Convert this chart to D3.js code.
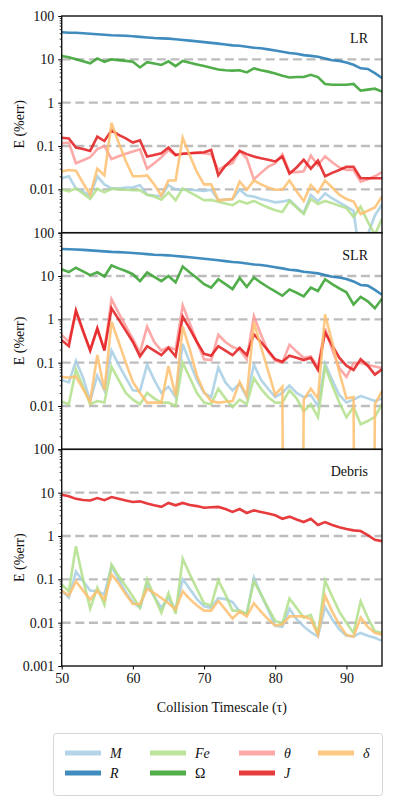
<!DOCTYPE html>
<html>
<head>
<meta charset="utf-8">
<script src="https://cdn.jsdelivr.net/npm/d3@7"></script>
<style>
  body { margin: 0; background: #fff; }
  svg text { font-family: "Liberation Serif", "DejaVu Serif", serif; fill: #111; }
</style>
</head>
<body>
<svg id="chart" width="395" height="807"></svg>
<script>
// collision timescale (x)
const tau = [50, 51, 52, 53, 54, 55, 56, 57, 58, 59,
  60, 61, 62, 63, 64, 65, 66, 67, 68, 69,
  70, 71, 72, 73, 74, 75, 76, 77, 78, 79,
  80, 81, 82, 83, 84, 85, 86, 87, 88, 89,
  90, 91, 92, 93, 94, 95];

// --- LR panel ---
const lrM = [0.018, 0.02, 0.0105, 0.009, 0.007, 0.02, 0.013, 0.0105, 0.0105, 0.011,
  0.0112, 0.0125, 0.0075, 0.0072, 0.007, 0.0125, 0.01, 0.0098, 0.0098, 0.0095,
  0.0092, 0.0098, 0.0056, 0.0058, 0.006, 0.0098, 0.0072, 0.0068, 0.006, 0.0055,
  0.005, 0.0052, 0.0057, 0.004, 0.0028, 0.0074, 0.0053, 0.008, 0.0062, 0.005,
  0.004, 0.0032, 0.0002, 0.0009, 0.0025, 0.0045];
const lrR = [42, 41, 41, 40, 39, 38, 37, 36, 35.5, 35,
  34, 33, 32, 31, 30.5, 30, 29, 28, 27, 26,
  25, 24, 23, 22, 21, 20.5, 19.5, 18.5, 18, 17,
  16, 15, 14, 13.5, 12.5, 12, 11.5, 10.5, 9.5, 9.2,
  8.5, 7.5, 6.2, 6.0, 4.8, 3.7];
const lrFe = [0.01, 0.009, 0.0105, 0.008, 0.006, 0.0103, 0.0085, 0.0103, 0.01, 0.0098,
  0.0095, 0.0095, 0.0075, 0.0068, 0.0058, 0.0085, 0.0056, 0.0105, 0.0085, 0.007,
  0.0056, 0.0057, 0.0052, 0.0047, 0.0043, 0.0054, 0.0047, 0.0054, 0.0045, 0.0038,
  0.0033, 0.003, 0.0054, 0.0038, 0.0027, 0.006, 0.0046, 0.0054, 0.0048, 0.0042,
  0.0037, 0.0023, 0.004, 0.0018, 0.0009, 0.0021];
const lrOmega = [11.9, 11.2, 10, 9, 8.1, 10.5, 8.8, 10, 9.6, 9.2,
  8.8, 6.5, 8.6, 8, 7.4, 9.0, 7.0, 9.2, 8.3, 7.6,
  7.0, 6.4, 5.8, 5.6, 5.5, 5.6, 5.0, 6.2, 5.6, 5.2,
  4.7, 4.2, 3.8, 3.9, 3.9, 4.4, 3.9, 2.7, 2.6, 2.6,
  2.6, 2.7, 1.9, 2.0, 2.1, 1.8];
const lrTheta = [0.115, 0.12, 0.04, 0.047, 0.055, 0.085, 0.1, 0.05, 0.058, 0.066,
  0.075, 0.084, 0.03, 0.04, 0.055, 0.08, 0.062, 0.066, 0.068, 0.07,
  0.068, 0.065, 0.028, 0.035, 0.04, 0.076, 0.052, 0.017, 0.024, 0.033,
  0.04, 0.064, 0.025, 0.025, 0.026, 0.06, 0.036, 0.058, 0.042, 0.032,
  0.028, 0.028, 0.015, 0.017, 0.02, 0.025];
const lrJ = [0.155, 0.15, 0.092, 0.085, 0.077, 0.165, 0.13, 0.23, 0.18, 0.15,
  0.12, 0.135, 0.057, 0.062, 0.068, 0.092, 0.062, 0.066, 0.068, 0.07,
  0.072, 0.081, 0.021, 0.035, 0.05, 0.077, 0.065, 0.057, 0.052, 0.048,
  0.044, 0.057, 0.023, 0.032, 0.048, 0.03, 0.046, 0.02, 0.024, 0.028,
  0.033, 0.033, 0.018, 0.018, 0.018, 0.018];
const lrDelta = [0.026, 0.028, 0.027, 0.014, 0.0075, 0.03, 0.021, 0.34, 0.12, 0.045,
  0.02, 0.02, 0.021, 0.013, 0.0072, 0.016, 0.016, 0.155, 0.06, 0.025,
  0.013, 0.013, 0.0056, 0.0058, 0.006, 0.015, 0.0098, 0.016, 0.013, 0.011,
  0.0098, 0.0098, 0.016, 0.009, 0.0054, 0.0125, 0.0085, 0.016, 0.011, 0.0075,
  0.006, 0.0052, 0.0027, 0.0032, 0.0038, 0.0068];

// --- SLR panel ---
const slrM = [0.04, 0.035, 0.11, 0.045, 0.013, 0.05, 0.023, 0.19, 0.09, 0.045,
  0.023, 0.022, 0.09, 0.04, 0.02, 0.028, 0.016, 0.27, 0.1, 0.04,
  0.02, 0.016, 0.078, 0.035, 0.023, 0.033, 0.016, 0.09, 0.04, 0.025,
  0.016, 0.02, 0.03, 0.02, 0.016, 0.018, 0.01, 0.095, 0.04, 0.018,
  0.012, 0.014, 0.017, 0.015, 0.013, 0.015];
const slrR = [42, 41.5, 41, 40, 39, 38, 37, 36, 35.5, 35,
  34, 33, 32, 31, 30.5, 30, 29, 28, 27, 26,
  25, 24, 23, 22, 21, 20.5, 19.5, 18.5, 18, 17,
  16, 15, 14, 13.5, 12.5, 12, 11.5, 10.5, 9.6, 9.2,
  8.5, 7.5, 6.2, 6.0, 4.8, 3.7];
const slrFe = [0.0125, 0.011, 0.07, 0.028, 0.011, 0.013, 0.012, 0.08, 0.04, 0.02,
  0.014, 0.011, 0.02, 0.015, 0.012, 0.012, 0.01, 0.1, 0.045, 0.02,
  0.012, 0.011, 0.025, 0.015, 0.0095, 0.014, 0.011, 0.044, 0.025, 0.016,
  0.012, 0.012, 0.023, 0.015, 0.0075, 0.011, 0.0055, 0.08, 0.03, 0.012,
  0.0055, 0.0095, 0.0038, 0.0045, 0.0056, 0.011];
const slrOmega = [14.3, 12.3, 15.5, 12.8, 10.5, 12.2, 9.8, 17.5, 15, 13,
  11, 7.6, 12, 9.5, 7.6, 10, 7.1, 16.5, 12, 9,
  6.5, 5.4, 8.4, 6.5, 5.0, 9.0, 5.6, 9.2, 7, 5.5,
  4.4, 3.5, 4.9, 4.1, 3.4, 5.4, 4.5, 8.4, 6.5, 5.2,
  4.2, 2.2, 3.3, 2.6, 1.8, 3.0];
const slrTheta = [0.44, 0.3, 1.5, 0.5, 0.2, 0.6, 0.2, 2.9, 1.4, 0.7,
  0.35, 0.17, 0.68, 0.3, 0.19, 0.23, 0.2, 2.1, 0.8, 0.3,
  0.12, 0.115, 0.44, 0.3, 0.23, 0.2, 0.12, 1.2, 0.44, 0.18,
  0.11, 0.1, 0.26, 0.18, 0.13, 0.14, 0.08, 0.62, 0.2, 0.075,
  0.047, 0.096, 0.1, 0.088, 0.082, 0.075];
const slrJ = [0.33, 0.24, 1.6, 0.55, 0.19, 0.62, 0.19, 1.8, 1.0, 0.55,
  0.3, 0.14, 0.24, 0.19, 0.15, 0.22, 0.14, 1.15, 0.6, 0.3,
  0.16, 0.145, 0.24, 0.19, 0.15, 0.22, 0.15, 0.45, 0.3, 0.19,
  0.12, 0.105, 0.145, 0.13, 0.115, 0.13, 0.068, 0.5, 0.25, 0.13,
  0.085, 0.068, 0.12, 0.085, 0.053, 0.07];
const slrDelta = [0.047, 0.045, 0.048, 0.025, 0.0125, 0.15, 0.023, 0.88, 0.3, 0.1,
  0.036, 0.02, 0.012, 0.012, 0.012, 0.083, 0.017, 0.68, 0.2, 0.05,
  0.021, 0.013, 0.012, 0.0125, 0.013, 0.036, 0.017, 0.85, 0.23, 0.065,
  0.018, 0.028, 0, 0, 0.014, 0.025, 0.015, 1.3, 0.3, 0.06,
  0.015, 0.016, 0, 0, 0.011, 0.022];

// --- Debris panel ---
const debM = [0.055, 0.038, 0.15, 0.09, 0.055, 0.053, 0.045, 0.2, 0.1, 0.05,
  0.03, 0.022, 0.075, 0.04, 0.022, 0.037, 0.02, 0.1, 0.06, 0.035,
  0.024, 0.022, 0.037, 0.035, 0.03, 0.018, 0.016, 0.11, 0.045, 0.02,
  0.0085, 0.008, 0.021, 0.012, 0.0082, 0.006, 0.0048, 0.023, 0.012, 0.007,
  0.005, 0.0048, 0.0058, 0.005, 0.0045, 0.0038];
const debFe = [0.076, 0.053, 0.58, 0.1, 0.021, 0.064, 0.026, 0.22, 0.12, 0.07,
  0.04, 0.022, 0.1, 0.04, 0.017, 0.048, 0.016, 0.3, 0.13, 0.06,
  0.028, 0.025, 0.095, 0.045, 0.019, 0.019, 0.016, 0.09, 0.045, 0.022,
  0.011, 0.0095, 0.036, 0.022, 0.013, 0.015, 0.0055, 0.093, 0.04, 0.018,
  0.01, 0.0058, 0.031, 0.013, 0.0063, 0.0058];
const debJ = [9.0, 8.3, 7.2, 6.8, 6.6, 7.5, 6.7, 7.9, 7.2, 6.6,
  6.1, 6.3, 5.6, 5.1, 4.7, 5.8, 5.1, 5.8, 5.2, 4.9,
  4.5, 4.6, 4.7, 4.2, 3.6, 4.2, 3.4, 3.9, 3.6, 3.3,
  3.0, 2.5, 2.8, 2.4, 2.1, 2.5, 1.8, 2.1, 1.8, 1.6,
  1.45, 1.35, 1.3, 1.05, 0.82, 0.76];
const debDelta = [0.055, 0.042, 0.09, 0.055, 0.034, 0.055, 0.034, 0.13, 0.08, 0.045,
  0.027, 0.027, 0.06, 0.048, 0.037, 0.028, 0.02, 0.053, 0.035, 0.025,
  0.019, 0.019, 0.032, 0.02, 0.0125, 0.018, 0.014, 0.028, 0.018, 0.012,
  0.0085, 0.009, 0.014, 0.014, 0.014, 0.012, 0.0052, 0.042, 0.018, 0.009,
  0.0052, 0.0048, 0.013, 0.008, 0.0058, 0.0053];

const yTicks = [100, 10, 1, 0.1, 0.01, 0.001];
const gridLevels = [10, 1, 0.1, 0.01];
const xTicks = [50, 60, 70, 80, 90];

const colors = {
  M: '#a6cee3', R: '#1f78b4', Fe: '#b2df8a', Omega: '#33a02c',
  theta: '#fb9a99', J: '#e31a1c', delta: '#fdbf6f',
};

const panels = [
  { name: 'LR', series: { M: lrM, R: lrR, Fe: lrFe, Omega: lrOmega, theta: lrTheta, J: lrJ, delta: lrDelta }, lastLabel: false },
  { name: 'SLR', series: { M: slrM, R: slrR, Fe: slrFe, Omega: slrOmega, theta: slrTheta, J: slrJ, delta: slrDelta }, lastLabel: false },
  { name: 'Debris', series: { M: debM, Fe: debFe, J: debJ, delta: debDelta }, lastLabel: true },
];
const order = ['M', 'R', 'Fe', 'Omega', 'theta', 'J', 'delta'];

const svg = d3.select('#chart');
const plotLeft = 61.7, plotRight = 382, plotTop = 16, panelH = 216.67;

const x = d3.scaleLinear().domain([50, 95]).range([plotLeft, plotRight]);

panels.forEach((p, i) => {
  const y0 = plotTop + i * panelH;
  const y = d3.scaleLog().domain([0.001, 100]).range([y0 + panelH, y0]);
  const g = svg.append('g');

  g.append('clipPath').attr('id', `clip${i}`)
    .append('rect').attr('x', plotLeft).attr('y', y0).attr('width', plotRight - plotLeft).attr('height', panelH);

  g.selectAll('line.grid')
    .data(gridLevels)
    .join('line')
    .attr('class', 'grid')
    .attr('x1', plotLeft).attr('x2', plotRight)
    .attr('y1', (d) => y(d)).attr('y2', (d) => y(d))
    .attr('stroke', '#bdbdbd')
    .attr('stroke-width', 2.4)
    .attr('stroke-dasharray', '9,4.6');

  const line = d3.line()
    .x((d, j) => x(tau[j]))
    .y((d) => y(Math.max(d, 1e-30)));

  const lines = g.append('g').attr('clip-path', `url(#clip${i})`);
  order.forEach((k) => {
    if (!p.series[k]) return;
    lines.append('path')
      .datum(p.series[k])
      .attr('d', line)
      .attr('fill', 'none')
      .attr('stroke', colors[k])
      .attr('stroke-opacity', 0.85)
      .attr('stroke-width', 2.6)
      .attr('stroke-linejoin', 'miter');
  });

  // minor ticks
  const minors = [];
  [0.001, 0.01, 0.1, 1, 10].forEach((dec) => {
    for (let m = 2; m <= 9; m++) minors.push(dec * m);
  });
  g.append('g')
    .attr('transform', `translate(${plotLeft},0)`)
    .call(d3.axisLeft(y).tickValues(minors).tickSize(2).tickFormat(''))
    .call((a) => a.select('.domain').remove())
    .call((a) => a.selectAll('line').attr('stroke-width', 0.8));

  const labels = p.lastLabel ? yTicks : yTicks.slice(0, 5);
  g.append('g')
    .attr('transform', `translate(${plotLeft},0)`)
    .call(d3.axisLeft(y).tickValues(yTicks).tickSize(3.5).tickPadding(4)
      .tickFormat((d) => (labels.includes(d) ? String(d) : '')))
    .call((a) => a.select('.domain').remove())
    .call((a) => a.selectAll('line').attr('stroke-width', 1))
    .call((a) => a.selectAll('text')
      .style('font-family', '"Liberation Serif", serif')
      .style('font-size', '14px').attr('fill', '#111'));

  g.append('rect')
    .attr('x', plotLeft).attr('y', y0)
    .attr('width', plotRight - plotLeft).attr('height', panelH)
    .attr('fill', 'none').attr('stroke', '#111').attr('stroke-width', 1.4);

  g.append('text')
    .attr('x', 368).attr('y', y0 + 27)
    .attr('text-anchor', 'end')
    .style('font-size', '14px')
    .text(p.name);

  g.append('text')
    .attr('transform', `translate(24,${y0 + panelH / 2}) rotate(-90)`)
    .attr('text-anchor', 'middle')
    .style('font-size', '14px')
    .text('E (%err)');

  if (i === panels.length - 1) {
    g.append('g')
      .attr('transform', `translate(0,${y0 + panelH})`)
      .call(d3.axisBottom(x).tickValues(xTicks).tickSize(3.5).tickPadding(4))
      .call((a) => a.select('.domain').remove())
      .call((a) => a.selectAll('line').attr('stroke-width', 1))
      .call((a) => a.selectAll('text')
        .style('font-family', '"Liberation Serif", serif')
        .style('font-size', '14px').attr('fill', '#111'));
  }
});

svg.append('text')
  .attr('x', (plotLeft + plotRight) / 2).attr('y', 712)
  .attr('text-anchor', 'middle')
  .style('font-size', '14px')
  .text('Collision Timescale (τ)');

// legend
const legendItems = [
  { key: 'M', label: 'M', col: 0, row: 0, italic: true },
  { key: 'R', label: 'R', col: 0, row: 1, italic: true },
  { key: 'Fe', label: 'Fe', col: 1, row: 0, italic: true },
  { key: 'Omega', label: 'Ω', col: 1, row: 1, italic: false },
  { key: 'theta', label: 'θ', col: 2, row: 0, italic: true },
  { key: 'J', label: 'J', col: 2, row: 1, italic: true },
  { key: 'delta', label: 'δ', col: 3, row: 0, italic: true },
];
const colX = [65, 150, 239, 318];
const rowY = [753, 773];

const legend = svg.append('g');
legend.append('rect')
  .attr('x', 53.5).attr('y', 733.5).attr('width', 329).attr('height', 62)
  .attr('rx', 3).attr('fill', '#fff').attr('stroke', '#d6d6d6').attr('stroke-width', 1);

legendItems.forEach((d) => {
  legend.append('line')
    .attr('x1', colX[d.col]).attr('x2', colX[d.col] + 36)
    .attr('y1', rowY[d.row]).attr('y2', rowY[d.row])
    .attr('stroke', colors[d.key]).attr('stroke-opacity', 0.85).attr('stroke-width', 5);
  legend.append('text')
    .attr('x', colX[d.col] + 45).attr('y', rowY[d.row] + 5)
    .style('font-size', '14px')
    .style('font-style', d.italic ? 'italic' : 'normal')
    .text(d.label);
});
</script>
</body>
</html>
